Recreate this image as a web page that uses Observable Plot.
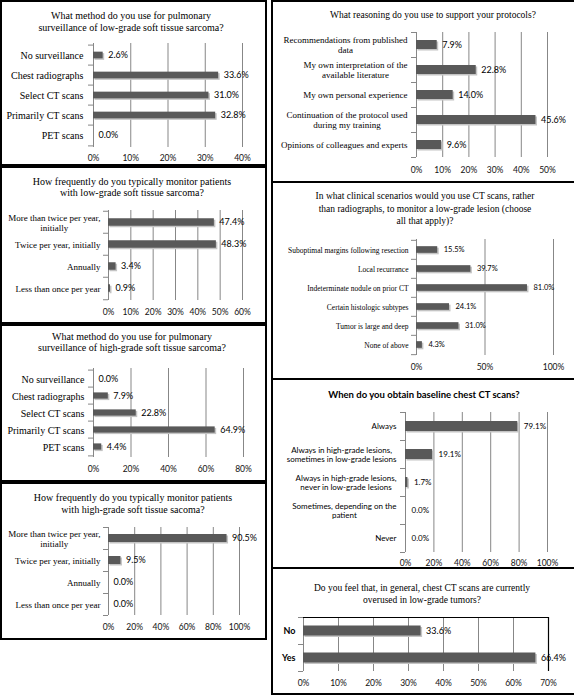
<!DOCTYPE html>
<html><head><meta charset="utf-8">
<script src="https://cdn.jsdelivr.net/npm/d3@7"></script>
<script src="https://cdn.jsdelivr.net/npm/@observablehq/plot@0.6"></script>
<style>
html,body{margin:0;padding:0;background:#fff;}
#root{position:relative;width:574px;height:695px;overflow:hidden;}
.box{position:absolute;box-sizing:border-box;border:2px solid #000;}
.tl{position:absolute;white-space:nowrap;line-height:1;transform:translate(-50%,-50%);color:#000;}
</style></head><body><div id="root"></div>
<script>
// ---------- data ----------
const methodCats = ["No surveillance","Chest radiographs","Select CT scans","Primarily CT scans","PET scans"];
const freqCats = ["More than twice per year,\ninitially","Twice per year, initially","Annually","Less than once per year"];

const p1Title = ["What method do you use for pulmonary","surveillance of low-grade soft tissue sarcoma?"];
const p1Vals = [2.6, 33.6, 31.0, 32.8, 0.0];
const p1Ticks = [0,10,20,30,40];

const p2Title = ["How frequently do you typically monitor patients","with low-grade soft tissue sarcoma?"];
const p2Vals = [47.4, 48.3, 3.4, 0.9];
const p2Ticks = [0,10,20,30,40,50,60];

const p3Title = ["What method do you use for pulmonary","surveillance of high-grade soft tissue sarcoma?"];
const p3Vals = [0.0, 7.9, 22.8, 64.9, 4.4];
const p3Ticks = [0,20,40,60,80];

const p4Title = ["How frequently do you typically monitor patients","with high-grade soft tissue sacoma?"];
const p4Vals = [90.5, 9.5, 0.0, 0.0];
const p4Ticks = [0,20,40,60,80,100];

const p5Title = ["What reasoning do you use to support your protocols?"];
const p5Cats = ["Recommendations from published\ndata","My own interpretation of the\navailable literature","My own personal experience","Continuation of the protocol used\nduring my training","Opinions of colleagues and experts"];
const p5Vals = [7.9, 22.8, 14.0, 45.6, 9.6];
const p5Ticks = [0,10,20,30,40,50];

const p6Title = ["In what clinical scenarios would you use CT scans, rather","than radiographs, to monitor a low-grade lesion (choose","all that apply)?"];
const p6Cats = ["Suboptimal margins following resection","Local recurrance","Indeterminate nodule on prior CT","Certain histologic subtypes","Tumor is large and deep","None of above"];
const p6Vals = [15.5, 39.7, 81.0, 24.1, 31.0, 4.3];
const p6Ticks = [0,50,100];

const p7Title = ["When do you obtain baseline chest CT scans?"];
const p7Cats = ["Always","Always in high-grade lesions,\nsometimes in low-grade lesions","Always in high-grade lesions,\nnever in low-grade lesions","Sometimes, depending on the\npatient","Never"];
const p7Vals = [79.1, 19.1, 1.7, 0.0, 0.0];
const p7Ticks = [0,20,40,60,80,100];

const p8Title = ["Do you feel that, in general, chest CT scans are currently","overused in low-grade tumors?"];
const p8Cats = ["No","Yes"];
const p8Vals = [33.6, 66.4];
const p8Ticks = [0,10,20,30,40,50,60,70];

// ---------- styling ----------
const SERIF = '"Liberation Serif","Times New Roman",serif';
const SANS = 'Lato,"Liberation Sans",sans-serif';
const GRID = "#878787";
const BAR = "#595959";
const SHADOW = "#c4c4c4";
const ctx = document.createElement("canvas").getContext("2d");
function tw(s, font){ ctx.font = font; return ctx.measureText(s).width; }

function panel(cfg){
  const root = document.getElementById("root");
  const b = document.createElement("div"); b.className = "box";
  Object.assign(b.style, {left: cfg.box[0]+"px", top: cfg.box[1]+"px", width: (cfg.box[2]-cfg.box[0])+"px", height: (cfg.box[3]-cfg.box[1])+"px"});
  root.appendChild(b);

  const L = cfg.box[0], T = cfg.box[1];
  const W = Math.min(574, cfg.box[2]) - L, H = Math.min(695, cfg.box[3]) - T;
  const cats = cfg.cats, n = cats.length;
  const data = cats.map((c, i) => ({c, v: cfg.vals[i]}));
  const bw = (cfg.y1 - cfg.y0) / n;
  const xmax = cfg.ticks[cfg.ticks.length - 1];
  const k = 5 * xmax / (cfg.x1 - cfg.x0);
  const ins = (bw - cfg.barH) / 2;
  const cfont = `${cfg.cweight||"normal"} ${cfg.csize}px ${cfg.cfam}`;
  const marks = [
    Plot.ruleX(cfg.ticks, {stroke: GRID, strokeWidth: 1}),
    Plot.ruleY(cats, {x1: -k, x2: 0, dy: -bw/2, stroke: GRID}),
    Plot.ruleY([cats[n-1]], {x1: -k, x2: 0, dy: bw/2, stroke: GRID}),
    Plot.barX(data, {x: "v", y: "c", fill: SHADOW, insetTop: ins, insetBottom: ins, dx: 1.5, dy: 1.5}),
    Plot.barX(data, {x: "v", y: "c", fill: BAR, insetTop: ins, insetBottom: ins}),
  ];
  if (cfg.frame) {
    marks.push(Plot.ruleX([xmax], {stroke: "#000", strokeWidth: 1.2}));
    marks.push(Plot.ruleY([cats[0]], {x1: 0, x2: xmax, dy: -bw/2, stroke: "#000", strokeWidth: 1.2}));
  }
  marks.push(Plot.text(data, {x: "v", y: "c", text: d => d.v.toFixed(1) + "%", textAnchor: "start", dx: cfg.vgap, fontSize: cfg.vsize, fontFamily: SANS, fill: "#000"}));
  cats.forEach(c => {
    const w = Math.max(...c.split("\n").map(s => tw(s, cfont)));
    marks.push(Plot.text([c], {y: d => d, text: d => d, frameAnchor: "left", textAnchor: "middle",
      dx: -(cfg.cgap + w/2), fontSize: cfg.csize, fontFamily: cfg.cfam, fontWeight: cfg.cweight||"normal",
      lineHeight: cfg.clh || 1.1, fill: "#000"}));
  });

  const svg = Plot.plot({
    width: W, height: H,
    marginLeft: cfg.x0 - L, marginRight: L + W - cfg.x1,
    marginTop: cfg.y0 - T, marginBottom: T + H - cfg.y1,
    x: {domain: [0, xmax], ticks: cfg.ticks, tickFormat: d => d + "%", tickSize: 0,
        tickPadding: cfg.tickY - cfg.y1 - 0.36*cfg.tsize, label: null},
    y: {type: "band", domain: cats, padding: 0, axis: null},
    style: {fontFamily: SANS, fontSize: cfg.tsize + "px", color: "#111", background: "transparent", overflow: "visible"},
    marks
  });
  svg.style.position = "absolute"; svg.style.left = L + "px"; svg.style.top = T + "px";
  root.appendChild(svg);

  cfg.title.forEach((line, i) => {
    const d = document.createElement("div"); d.className = "tl"; d.textContent = line;
    Object.assign(d.style, {left: cfg.tx + "px", top: cfg.ty[i] + "px", font: cfg.tfont});
    root.appendChild(d);
  });
}

panel({box:[0,0,267,166], title:p1Title, tx:131, ty:[15,27], tfont:`10px ${SERIF}`,
  cats:methodCats, vals:p1Vals, ticks:p1Ticks, x0:93, x1:242, y0:43, y1:147, tickY:158, tsize:8.5,
  barH:7.5, vsize:9, vgap:5, csize:10, cfam:SERIF, cgap:10});
panel({box:[0,166,267,324], title:p2Title, tx:132, ty:[181,192], tfont:`10px ${SERIF}`,
  cats:freqCats, vals:p2Vals, ticks:p2Ticks, x0:108, x1:242, y0:210, y1:300, tickY:312, tsize:8.5,
  barH:8, vsize:9, vgap:5, csize:9, cfam:SERIF, cgap:8});
panel({box:[0,324,267,482], title:p3Title, tx:132, ty:[336,347], tfont:`10px ${SERIF}`,
  cats:methodCats, vals:p3Vals, ticks:p3Ticks, x0:93, x1:243, y0:368, y1:457, tickY:469, tsize:8.5,
  barH:7, vsize:9, vgap:5, csize:10, cfam:SERIF, cgap:9});
panel({box:[0,482,267,640], title:p4Title, tx:133, ty:[497,509], tfont:`10px ${SERIF}`,
  cats:freqCats, vals:p4Vals, ticks:p4Ticks, x0:108, x1:239, y0:527, y1:615, tickY:627, tsize:8.5,
  barH:8, vsize:9, vgap:5, csize:9, cfam:SERIF, cgap:8});
panel({box:[271,0,576,183], title:p5Title, tx:433, ty:[15], tfont:`9.5px ${SERIF}`,
  cats:p5Cats, vals:p5Vals, ticks:p5Ticks, x0:416, x1:547, y0:32, y1:157, tickY:170, tsize:8.5,
  barH:9, vsize:9, vgap:5, csize:9, cfam:SERIF, cgap:9});
panel({box:[271,181,576,380], title:p6Title, tx:425, ty:[196,209,221], tfont:`9.5px ${SERIF}`,
  cats:p6Cats, vals:p6Vals, ticks:p6Ticks, x0:416, x1:553, y0:239, y1:355, tickY:367, tsize:8.5,
  barH:7, vsize:7.5, vgap:6, csize:7.5, cfam:SERIF, cgap:8});
panel({box:[271,378,576,569], title:p7Title, tx:424, ty:[394], tfont:`bold 9.5px ${SANS}`,
  cats:p7Cats, vals:p7Vals, ticks:p7Ticks, x0:405, x1:547, y0:412, y1:552, tickY:563, tsize:8.5,
  barH:10, vsize:8, vgap:6, csize:8, cfam:SANS, cgap:9, clh:1.15});
panel({box:[271,567,576,695], title:p8Title, tx:422, ty:[588,600], tfont:`9.5px ${SERIF}`,
  cats:p8Cats, vals:p8Vals, ticks:p8Ticks, x0:303, x1:548, y0:617, y1:671, tickY:683, tsize:8.5,
  barH:10, vsize:9, vgap:5, csize:9, cfam:SANS, cweight:"bold", cgap:8, frame:true});
</script>
</body></html>
